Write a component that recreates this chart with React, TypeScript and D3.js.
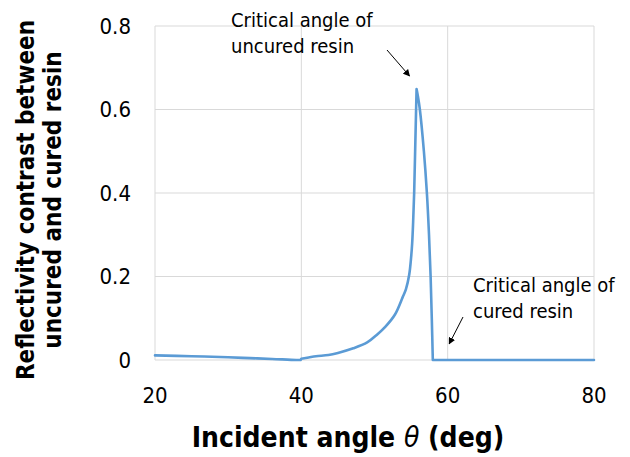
import React from "react";
import * as d3 from "d3";

// Incident angle (deg) and reflectivity contrast between uncured and cured resin
const angles = [
  20, 25, 30, 33, 36, 39.3, 39.9,
  40, 41, 42, 43.7, 45, 47.1, 49, 50.3, 51.5, 52.8, 53.84, 54.3, 54.75, 55.0,
  55.15, 55.28, 55.42, 55.58, 55.75,
  55.93, 56.2, 56.75, 57.16, 57.45, 57.67, 57.83, 57.97,
  70, 80,
];
const contrast = [
  0.011, 0.009, 0.0065, 0.0045, 0.0025, 0.0, 0.0,
  0.003, 0.006, 0.009, 0.012, 0.017, 0.028, 0.042, 0.06, 0.08, 0.109, 0.15,
  0.17, 0.205, 0.245, 0.28, 0.33, 0.4, 0.52, 0.649,
  0.632, 0.6, 0.5, 0.4, 0.3, 0.2, 0.1, 0.0,
  0.0, 0.0,
];
// angles where the curve changes character (branch boundaries)
const breaks = [39.9, 55.75, 57.97];

const xTicks = [20, 40, 60, 80];
const yTicks = [0, 0.2, 0.4, 0.6, 0.8];

const uncuredNote = ["Critical angle of", "uncured resin"];
const curedNote = ["Critical angle of", "cured resin"];
const uncuredAngle = 55.75;
const curedAngle = 60;

const W = 630;
const H = 457;
const FONT = "'DejaVu Sans', Verdana, sans-serif";

export default function App() {
  const x = d3.scaleLinear().domain([20, 80]).range([155, 594]);
  const y = d3.scaleLinear().domain([0, 0.8]).range([360, 26]);

  const points = angles.map((a, i) => [a, contrast[i]] as [number, number]);

  // split into branches, each smoothed separately, then joined into one path
  const segments: [number, number][][] = [];
  let current: [number, number][] = [];
  points.forEach((p, i) => {
    current.push(p);
    if (breaks.includes(p[0]) && i < points.length - 1) {
      segments.push(current);
      current = p[0] === breaks[0] ? [] : [p];
    }
  });
  segments.push(current);

  const line = d3
    .line<[number, number]>()
    .x((d) => x(d[0]))
    .y((d) => y(d[1]))
    .curve(d3.curveCatmullRom.alpha(0.5));

  const d = segments
    .map((s, i) => {
      const p = line(s) ?? "";
      return i === 0 ? p : "L" + p.slice(1);
    })
    .join("");

  const peak = contrast[angles.indexOf(uncuredAngle)];

  return (
    <svg
      width={W}
      height={H}
      style={{ position: "absolute", left: 0, top: 0, background: "#fff" }}
      fontFamily={FONT}
      fontStretch="condensed"
    >
      <defs>
        <marker
          id="arrowHead"
          viewBox="0 0 10 10"
          refX="9"
          refY="5"
          markerWidth="7"
          markerHeight="7"
          orient="auto-start-reverse"
          markerUnits="userSpaceOnUse"
        >
          <path d="M0,0 L10,5 L0,10 z" fill="#000" />
        </marker>
      </defs>

      {/* gridlines */}
      {yTicks.map((t) => (
        <line
          key={"gy" + t}
          x1={x(20)}
          x2={x(80)}
          y1={y(t)}
          y2={y(t)}
          stroke="#d9d9d9"
          strokeWidth={1}
        />
      ))}
      {xTicks.map((t) => (
        <line
          key={"gx" + t}
          x1={x(t)}
          x2={x(t)}
          y1={y(0)}
          y2={y(0.8)}
          stroke="#d9d9d9"
          strokeWidth={1}
        />
      ))}

      {/* tick labels */}
      {yTicks.map((t) => (
        <text
          key={"ty" + t}
          x={131}
          y={y(t)}
          dy="0.36em"
          textAnchor="end"
          fontSize={22}
          fill="#000"
        >
          {t === 0 ? "0" : t.toFixed(1)}
        </text>
      ))}
      {xTicks.map((t) => (
        <text
          key={"tx" + t}
          x={x(t)}
          y={403}
          textAnchor="middle"
          fontSize={22}
          fill="#000"
        >
          {t}
        </text>
      ))}

      {/* data curve */}
      <path
        d={d}
        fill="none"
        stroke="#5b9bd5"
        strokeWidth={2.6}
        strokeLinejoin="round"
        strokeLinecap="round"
      />

      {/* annotations */}
      <text fontSize={20} fill="#000">
        <tspan x={231} y={27}>{uncuredNote[0]}</tspan>
        <tspan x={231} y={53}>{uncuredNote[1]}</tspan>
      </text>
      <line
        x1={387}
        y1={50}
        x2={x(uncuredAngle) - 7}
        y2={y(peak) - 13}
        stroke="#000"
        strokeWidth={1}
        markerEnd="url(#arrowHead)"
      />
      <text fontSize={20} fill="#000">
        <tspan x={473} y={292}>{curedNote[0]}</tspan>
        <tspan x={473} y={318}>{curedNote[1]}</tspan>
      </text>
      <line
        x1={463}
        y1={317}
        x2={x(curedAngle) + 1.5}
        y2={344}
        stroke="#000"
        strokeWidth={1}
        markerEnd="url(#arrowHead)"
      />

      {/* axis titles */}
      <text
        x={348}
        y={447}
        textAnchor="middle"
        fontSize={28}
        fontWeight="bold"
        fill="#000"
      >
        Incident angle <tspan fontStyle="italic" fontWeight="normal">θ</tspan> (deg)
      </text>
      <g transform="translate(0,200) rotate(-90)">
        <text x={0} y={34} textAnchor="middle" fontSize={24} fontWeight="bold" fill="#000">
          Reflectivity contrast between
        </text>
        <text x={0} y={61} textAnchor="middle" fontSize={24} fontWeight="bold" fill="#000">
          uncured and cured resin
        </text>
      </g>
    </svg>
  );
}
